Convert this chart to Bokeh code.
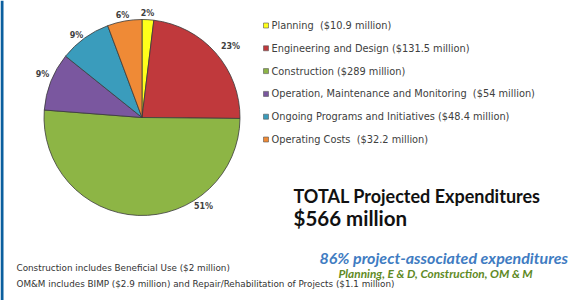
import numpy as np
from bokeh.plotting import figure
from bokeh.models import Range1d, ColumnDataSource
from bokeh.core.properties import value
from bokeh.embed import file_html
from bokeh.resources import INLINE

# ---- data ----
categories = ["Planning", "Engineering and Design", "Construction",
              "Operation, Maintenance and Monitoring", "Ongoing Programs and Initiatives",
              "Operating Costs"]
amounts = [10.9, 131.5, 289.0, 54.0, 48.4, 32.2]  # $ million
pct_labels = ["2%", "23%", "51%", "9%", "9%", "6%"]
legend_labels = ["Planning \u00a0($10.9 million)",
                 "Engineering and Design ($131.5 million)",
                 "Construction ($289 million)",
                 "Operation, Maintenance and Monitoring \u00a0($54 million)",
                 "Ongoing Programs and Initiatives ($48.4 million)",
                 "Operating Costs \u00a0($32.2 million)"]
colors = ["#ffff1a", "#c0393c", "#8db545", "#7a579f", "#3a9cbc", "#ef8a36"]

# ---- layout constants ----
W, H = 581, 300
CX, CY, R = 141.5, 183, 98
label_pos = [(147, 287), (230, 254), (203, 94), (42, 226), (76, 265), (122, 285)]

p = figure(width=W, height=H, output_backend="svg", toolbar_location=None,
           x_range=Range1d(0, W), y_range=Range1d(0, H), min_border=0)
p.axis.visible = False
p.grid.visible = False
p.outline_line_color = None
p.background_fill_color = "white"
p.border_fill_color = "white"

# left blue border strip
p.quad(left=0, right=3, bottom=0, top=H, fill_color="#0b5f9e", line_color=None)

vals = np.array(amounts)
frac = vals / vals.sum()
cum_end = np.cumsum(frac)
cum_start = cum_end - frac
start = np.pi / 2 - 2 * np.pi * cum_end
end = np.pi / 2 - 2 * np.pi * cum_start

src = ColumnDataSource(dict(start=start, end=end, color=colors, cat=categories))
p.wedge(x=CX, y=CY, radius=R, start_angle="start", end_angle="end",
        direction="anticlock", fill_color="color", line_color="#3a3a3a",
        line_width=0.8, source=src)

# percentage labels
p.text(x=[q[0] for q in label_pos], y=[q[1] for q in label_pos], text=pct_labels,
       text_font=value("DejaVu Sans"), text_font_style="bold", text_font_size="8px",
       text_color="#404040", text_align="center", text_baseline="middle")

# legend
ly = [275 - 22.8 * i for i in range(len(categories))]
p.rect(x=[265.5] * len(categories), y=ly, width=5, height=5, fill_color=colors,
       line_color="#555555", line_width=0.6)
p.text(x=[271] * len(categories), y=ly, text=legend_labels,
       text_font=value("DejaVu Sans"), text_font_size="9.8px", text_color="#404040",
       text_align="left", text_baseline="middle")

# total
p.text(x=[293], y=[105], text=["TOTAL Projected Expenditures"], text_font=value("Lato"),
       text_font_style="bold", text_font_size="18px", text_color="#111111",
       text_baseline="alphabetic")
p.text(x=[293], y=[83], text=["$566 million"], text_font=value("Lato"),
       text_font_style="bold", text_font_size="20.5px", text_color="#111111",
       text_baseline="alphabetic")

p.text(x=[319], y=[43], text=["86% project-associated expenditures"], text_font=value("Lato"),
       text_font_style="bold italic", text_font_size="16px", text_color="#3f7cc2",
       text_baseline="alphabetic")
p.text(x=[338], y=[27.5], text=["Planning, E & D, Construction, OM & M"], text_font=value("Lato"),
       text_font_style="bold italic", text_font_size="11.8px", text_color="#5f8a25",
       text_baseline="alphabetic")

# notes
p.text(x=[16], y=[33], text=["Construction includes Beneficial Use ($2 million)"],
       text_font=value("DejaVu Sans"), text_font_size="8.8px", text_color="#333333",
       text_baseline="middle")
p.text(x=[16], y=[17], text=["OM&M includes BIMP ($2.9 million) and Repair/Rehabilitation of Projects ($1.1 million)"],
       text_font=value("DejaVu Sans"), text_font_size="8.8px", text_color="#333333",
       text_baseline="middle")

open("out.html", "w").write(file_html(p, INLINE))
